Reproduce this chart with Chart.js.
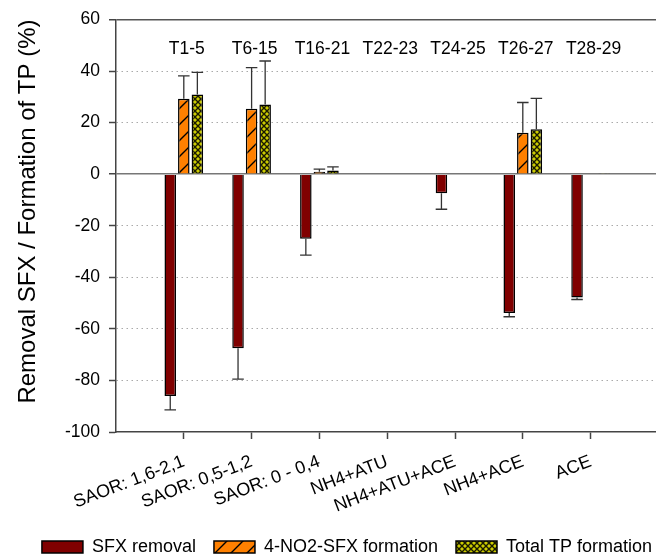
<!DOCTYPE html>
<html>
<head>
<meta charset="utf-8">
<script src="https://cdn.jsdelivr.net/npm/chart.js@4.4.0/dist/chart.umd.min.js"></script>
<style>
html, body { margin: 0; padding: 0; overflow: hidden; background: #fff; }
</style>
</head>
<body>
<canvas id="chart" width="694" height="566"></canvas>
<script>
// categorie e valori
const categories = ["SAOR: 1,6-2,1", "SAOR: 0,5-1,2", "SAOR: 0 - 0,4", "NH4+ATU", "NH4+ATU+ACE", "NH4+ACE", "ACE"];
const groupLabels = ["T1-5", "T6-15", "T16-21", "T22-23", "T24-25", "T26-27", "T28-29"];
const sfxRemoval = [-86, -67.5, -25, null, -7.4, -53.8, -47.8];
const sfxRemovalErr = [5.4, 12, 6.4, 0, 6.2, 1.5, 0.8];
const no2Formation = [29.3, 25.4, 0.9, null, null, 16.1, null];
const no2FormationErr = [8.8, 15.9, 1.1, 0, 0, 11.7, 0];
const tpFormation = [30.9, 27.0, 1.4, null, null, 17.4, 0.4];
const tpFormationErr = [8.6, 16.9, 1.4, 0, 0, 12, 0];
const yTicks = [-100, -80, -60, -40, -20, 0, 20, 40, 60];

const FONT = "'Liberation Sans', Arial, sans-serif";

// riempimento a tratteggio diagonale (arancione)
function hatchPattern() {
    const s = 16;
    const c = document.createElement("canvas");
    c.width = s; c.height = s;
    const g = c.getContext("2d");
    g.fillStyle = "#ff8000";
    g.fillRect(0, 0, s, s);
    g.strokeStyle = "#000";
    g.lineWidth = 1.4;
    g.beginPath();
    g.moveTo(0, s); g.lineTo(s, 0);
    g.moveTo(-3, 3); g.lineTo(3, -3);
    g.moveTo(s - 3, s + 3); g.lineTo(s + 3, s - 3);
    g.stroke();
    return g.createPattern(c, "repeat");
}

// riempimento a rombi (giallo-verde)
function crossPattern() {
    const s = 6;
    const c = document.createElement("canvas");
    c.width = s; c.height = s;
    const g = c.getContext("2d");
    g.fillStyle = "#cccc00";
    g.fillRect(0, 0, s, s);
    g.strokeStyle = "#1a1a00";
    g.lineWidth = 1.4;
    g.beginPath();
    g.moveTo(0, 0); g.lineTo(s, s);
    g.moveTo(s, 0); g.lineTo(0, s);
    g.stroke();
    return g.createPattern(c, "repeat");
}

const toPoints = (arr) => arr.map((v, i) => ({ x: i + 1, y: v }));

// barre d'errore (solo verso l'esterno)
const errorBars = {
    id: "errorBars",
    afterDatasetsDraw(chart) {
        const ctx = chart.ctx;
        const yScale = chart.scales.y;
        chart.data.datasets.forEach((ds, di) => {
            const meta = chart.getDatasetMeta(di);
            meta.data.forEach((bar, i) => {
                const v = ds.data[i].y;
                const e = ds.errors[i];
                if (v === null || !e) return;
                const end = yScale.getPixelForValue(v + Math.sign(v) * e);
                const half = bar.width / 2;
                ctx.save();
                ctx.strokeStyle = "#333";
                ctx.lineWidth = 1.3;
                ctx.beginPath();
                ctx.moveTo(bar.x, bar.y);
                ctx.lineTo(bar.x, end);
                ctx.moveTo(bar.x - half, end);
                ctx.lineTo(bar.x + half, end);
                ctx.stroke();
                ctx.restore();
            });
        });
    }
};

// etichette dei gruppi in alto
const groupTitles = {
    id: "groupTitles",
    afterDatasetsDraw(chart) {
        const ctx = chart.ctx;
        const x = chart.scales.x;
        const y = chart.scales.y;
        ctx.save();
        ctx.font = "17.5px " + FONT;
        ctx.fillStyle = "#000";
        ctx.textAlign = "center";
        ctx.textBaseline = "middle";
        groupLabels.forEach((lab, i) => {
            ctx.fillText(lab, x.getPixelForValue(i + 1) + 3, y.getPixelForValue(48.5));
        });
        ctx.restore();
    }
};

const data = {
    datasets: [
        {
            label: "SFX removal",
            data: toPoints(sfxRemoval),
            errors: sfxRemovalErr,
            backgroundColor: "#800000",
            borderColor: "#000",
            borderWidth: 1.5
        },
        {
            label: "4-NO2-SFX formation",
            data: toPoints(no2Formation),
            errors: no2FormationErr,
            backgroundColor: hatchPattern(),
            borderColor: "#000",
            borderWidth: 1.5
        },
        {
            label: "Total TP formation",
            data: toPoints(tpFormation),
            errors: tpFormationErr,
            backgroundColor: crossPattern(),
            borderColor: "#000",
            borderWidth: 1.5
        }
    ]
};

const tickVal = (c) => (c.tick ? c.tick.value : null);

const config = {
    type: "bar",
    data: data,
    options: {
        responsive: false,
        animation: false,
        categoryPercentage: 0.6,
        barPercentage: 0.85,
        layout: { padding: { top: 19, right: 0, bottom: 0, left: 0 } },
        plugins: {
            legend: {
                position: "bottom",
                labels: {
                    boxWidth: 41,
                    boxHeight: 12,
                    padding: 18,
                    color: "#000",
                    font: { size: 18, family: FONT }
                }
            },
            tooltip: { enabled: false }
        },
        scales: {
            x: {
                type: "linear",
                min: 0,
                max: 8.525,
                offset: false,
                afterBuildTicks: (s) => { s.ticks = categories.map((c, i) => ({ value: i + 1 })); },
                afterFit: (s) => { s.height = 88; },
                grid: { offset: false, drawOnChartArea: false, tickLength: 7, tickColor: "#444", tickWidth: 1.5 },
                border: { color: "#444", width: 1.5 },
                ticks: {
                    autoSkip: false,
                    minRotation: 21,
                    maxRotation: 21,
                    padding: 12,
                    color: "#000",
                    font: { size: 18, family: FONT },
                    callback: (v) => categories[v - 1] || ""
                }
            },
            y: {
                min: -100,
                max: 60,
                afterBuildTicks: (s) => { s.ticks = yTicks.map((v) => ({ value: v })); },
                afterFit: (s) => { s.width = 116; },
                grid: {
                    color: (c) => {
                        const v = tickVal(c);
                        if (v === 0) return "#777";
                        if (v === 60) return "#555";
                        if (v === -100) return "rgba(0,0,0,0)";
                        return "#aaa";
                    },
                    lineWidth: (c) => (tickVal(c) === 0 || tickVal(c) === 60 ? 1.5 : 1),
                    tickLength: 7,
                    tickColor: "#444",
                    tickWidth: 1.5
                },
                border: {
                    color: "#444",
                    width: 1.5,
                    dash: (c) => {
                        const v = tickVal(c);
                        return (v === null || v === 0 || v === 60) ? [] : [1.5, 3.5];
                    }
                },
                ticks: {
                    padding: 9,
                    color: "#000",
                    font: { size: 17.5, family: FONT }
                },
                title: {
                    display: true,
                    text: "Removal SFX / Formation of TP (%)",
                    align: "end",
                    color: "#000",
                    padding: { top: 14, bottom: 0 },
                    font: { size: 24, family: FONT }
                }
            }
        }
    },
    plugins: [errorBars, groupTitles]
};

new Chart(document.getElementById("chart").getContext("2d"), config);
</script>
</body>
</html>
